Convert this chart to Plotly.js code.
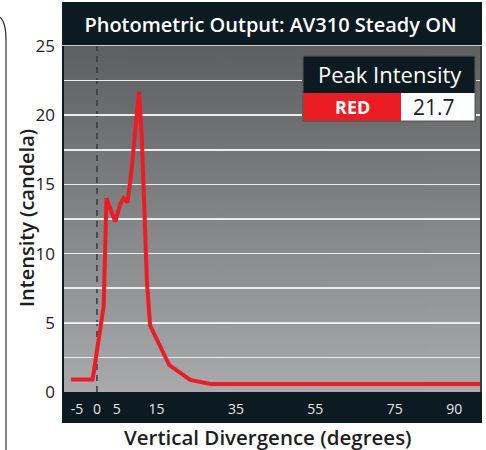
<!DOCTYPE html>
<html>
<head>
<meta charset="utf-8">
<script src="https://cdn.plot.ly/plotly-3.0.1.min.js"></script>
<style>html,body{margin:0;padding:0;background:#fff;}#chart{width:486px;height:450px;}</style>
</head>
<body>
<div id="chart"></div>
<script>
// ---- data ----
const divergenceDeg = [-6.5, -1.1, 1.7, 2.4, 4.6, 5.9, 6.7, 7.7, 8.7, 10.6, 11.3, 12.6, 13.4, 18.2, 23.5, 28.5, 97];
const intensityRed  = [0.9, 0.9, 6.2, 14.0, 12.3, 13.6, 14.0, 13.7, 16.0, 21.7, 18.4, 7.9, 4.8, 1.95, 0.87, 0.58, 0.58];
const xTickVals = [-5, 0, 5, 15, 35, 55, 75, 90];
const xTickText = ['-5', '0', '5', '15', '35', '55', '75', '90'];
const yTickVals = [0, 5, 10, 15, 20, 25];
const seriesName = 'RED';
const peakValue = '21.7';

// ---- geometry helpers (pixels -> paper) ----
const W = 486, H = 450, L = 64, R = 480, T = 46, B = 392;
const PX = p => (p - L) / (R - L);
const PY = p => (B - p) / (B - T);

// gradient background for plot area
const cv = document.createElement('canvas');
cv.width = 4; cv.height = 200;
const cx = cv.getContext('2d');
const g = cx.createLinearGradient(0, 0, 0, 200);
g.addColorStop(0, '#5e5f61');
g.addColorStop(1, '#a9aaac');
cx.fillStyle = g; cx.fillRect(0, 0, 4, 200);
const bgURL = cv.toDataURL('image/png');

const FONT = '"Open Sans", "DejaVu Sans", sans-serif';
const DARK = '#0c1a21';

function rect(x0, y0, x1, y1, fill, layer) {
  return {type: 'rect', xref: 'paper', yref: 'paper', x0: PX(x0), x1: PX(x1), y0: PY(y1), y1: PY(y0),
          fillcolor: fill, line: {width: 0}, layer: layer || 'below'};
}

const shapes = [
  // dark frame
  rect(62, 2, 482, 45.5, DARK),
  rect(62, 392, 482, 423, DARK),
  rect(62, 45, 64, 392, DARK),
  rect(480, 45, 482, 392, '#3a3c3e'),
  // light line under title bar
  {type: 'line', xref: 'paper', yref: 'paper', x0: PX(62), x1: PX(482), y0: PY(45.5), y1: PY(45.5),
   line: {color: '#cfd0d2', width: 1.2}, layer: 'below'},
  // dashed line at 0 degrees
  {type: 'line', xref: 'x', yref: 'paper', x0: 0, x1: 0, y0: 0, y1: 1,
   line: {color: '#3a3a3a', width: 1.5, dash: '6px,5px'}, layer: 'between'},
  // far-left frame curve
  {type: 'path', xref: 'paper', yref: 'paper',
   path: `M ${PX(-2)} ${PY(16)} Q ${PX(6)} ${PY(19)} ${PX(6)} ${PY(40)} L ${PX(6)} ${PY(452)}`,
   line: {color: '#333333', width: 1.2}, layer: 'below'},
  // legend table
  rect(302, 55, 476, 122, '#5a5c5e', 'above'),
  rect(303.5, 56.5, 474.5, 93, DARK, 'above'),
  rect(303.5, 93, 401, 120.5, '#ec1c24', 'above'),
  rect(401, 93, 474.5, 120.5, '#ffffff', 'above')
];

const annotations = [
  {xref: 'paper', yref: 'paper', x: PX(389.5), y: PY(74), text: 'Peak Intensity', showarrow: false,
   xanchor: 'center', yanchor: 'middle', font: {family: FONT, size: 22, color: '#ffffff', weight: 500}},
  {xref: 'paper', yref: 'paper', x: PX(352), y: PY(107), text: seriesName, showarrow: false,
   xanchor: 'center', yanchor: 'middle', font: {family: FONT, size: 18, color: '#ffffff', weight: 700}},
  {xref: 'paper', yref: 'paper', x: PX(434), y: PY(107), text: peakValue, showarrow: false,
   xanchor: 'center', yanchor: 'middle', font: {family: FONT, size: 21, color: '#222222'}},
  {xref: 'paper', yref: 'paper', x: PX(268), y: PY(437), text: 'Vertical Divergence (degrees)', showarrow: false,
   xanchor: 'center', yanchor: 'middle', font: {family: FONT, size: 20.5, color: '#1e1e1e', weight: 600}},
  {xref: 'paper', yref: 'paper', x: PX(26), y: PY(218), text: 'Intensity (candela)', showarrow: false, textangle: -90,
   xanchor: 'center', yanchor: 'middle', font: {family: FONT, size: 20, color: '#1e1e1e', weight: 600}}
];

const trace = {
  x: divergenceDeg, y: intensityRed, type: 'scatter', mode: 'lines', name: seriesName,
  line: {color: '#ed1c24', width: 4}, hoverinfo: 'skip', cliponaxis: true
};

const layout = {
  width: W, height: H,
  margin: {l: L, r: W - R, t: T, b: H - B, pad: 0},
  paper_bgcolor: '#ffffff', plot_bgcolor: 'rgba(0,0,0,0)',
  showlegend: false,
  title: {text: 'Photometric Output: AV310 Steady ON', xref: 'paper', x: PX(270.5), xanchor: 'center',
          yref: 'container', y: 1 - 25 / H, yanchor: 'middle',
          font: {family: FONT, size: 20, color: '#ffffff', weight: 600}},
  xaxis: {range: [-8.3, 96.5], tickvals: xTickVals, ticktext: xTickText, showgrid: false, zeroline: false,
          ticks: '', showline: false, ticklabelstandoff: 7, fixedrange: true,
          tickfont: {family: FONT, size: 14, color: '#e6e6e6'}},
  yaxis: {range: [0, 25], tickvals: yTickVals, showgrid: true, gridcolor: '#ececec', gridwidth: 1.5,
          zeroline: false, ticks: '', showline: false, ticklabelstandoff: 8, fixedrange: true,
          minor: {dtick: 2.5, showgrid: true, gridcolor: '#ececec', gridwidth: 1.5},
          tickfont: {family: FONT, size: 17, color: '#222222'}},
  shapes: shapes,
  annotations: annotations,
  images: [{source: bgURL, xref: 'paper', yref: 'paper', x: 0, y: 1, sizex: 1, sizey: 1,
            xanchor: 'left', yanchor: 'top', sizing: 'stretch', layer: 'below'}]
};

Plotly.newPlot('chart', [trace], layout, {displayModeBar: false, staticPlot: true});
</script>
</body>
</html>
